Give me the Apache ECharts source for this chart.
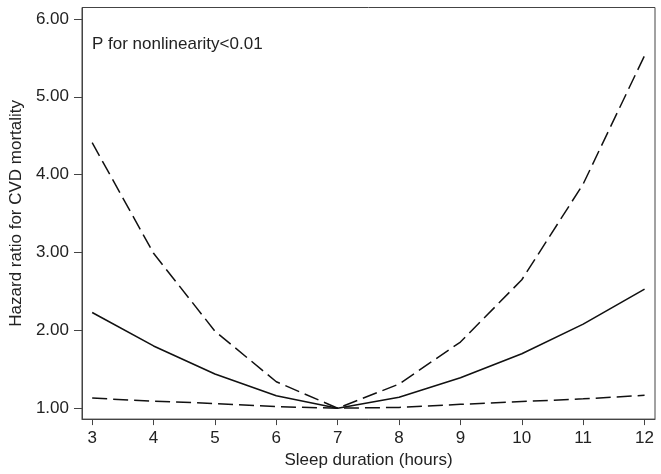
<!DOCTYPE html>
<html>
<head>
<meta charset="utf-8">
<script src="https://cdn.jsdelivr.net/npm/echarts@6/dist/echarts.min.js"></script>
<style>html,body{margin:0;padding:0;background:#fff;}#c{width:661px;height:474px;}</style>
</head>
<body>
<div id="c"></div>
<script>
const sleepHours = [3, 4, 5, 6, 7, 8, 9, 10, 11, 12];
const hazardRatio = [2.23, 1.80, 1.44, 1.16, 1.00, 1.14, 1.39, 1.70, 2.08, 2.53];
const upperCI = [4.41, 2.99, 1.99, 1.34, 1.00, 1.31, 1.85, 2.65, 3.88, 5.53];
const lowerCI = [1.13, 1.09, 1.06, 1.02, 1.00, 1.01, 1.05, 1.085, 1.12, 1.166];
const xTicks = [3, 4, 5, 6, 7, 8, 9, 10, 11, 12];
const yTicks = [1, 2, 3, 4, 5, 6];
const annotation = 'P for nonlinearity<0.01';
const xName = 'Sleep duration (hours)';
const yName = 'Hazard ratio for CVD mortality';

const FONT = 'Liberation Sans, Arial, sans-serif';
const pair = arr => sleepHours.map((x, i) => [x, arr[i]]);
const chart = echarts.init(document.getElementById('c'), null, {renderer: 'canvas'});
const dash = {color: '#111', width: 1.5, type: [15, 6]};
chart.setOption({
  animation: false,
  backgroundColor: '#fff',
  grid: {left: 77, right: 6, top: 7.5, bottom: 52, show: true, borderColor: '#444', borderWidth: 1, backgroundColor: 'transparent'},
  xAxis: {
    type: 'value', min: 2.834, max: 12.17,
    name: xName, nameLocation: 'middle', nameGap: 27,
    nameTextStyle: {fontFamily: FONT, fontSize: 17, color: '#222'},
    axisLine: {show: true, lineStyle: {color: '#444', width: 1}},
    axisTick: {show: true, length: 6, lineStyle: {color: '#444'}, customValues: xTicks},
    axisLabel: {fontFamily: FONT, fontSize: 17, color: '#222', margin: 11, customValues: xTicks},
    splitLine: {show: false}
  },
  yAxis: {
    type: 'value', min: 0.86, max: 6.147,
    name: yName, nameLocation: 'middle', nameGap: 55,
    nameTextStyle: {fontFamily: FONT, fontSize: 17, color: '#222'},
    axisLine: {show: true, lineStyle: {color: '#444', width: 1}},
    axisTick: {show: true, length: 8, lineStyle: {color: '#444'}, customValues: yTicks},
    axisLabel: {fontFamily: FONT, fontSize: 17, color: '#222', margin: 13, customValues: yTicks, formatter: v => v.toFixed(2)},
    splitLine: {show: false}
  },
  graphic: [{
    type: 'text', left: 92, top: 36,
    style: {text: annotation, fontFamily: FONT, fontSize: 17, fill: '#222'}
  }],
  series: [
    {type: 'line', data: pair(upperCI), symbol: 'none', lineStyle: dash},
    {type: 'line', data: pair(hazardRatio), symbol: 'none', lineStyle: {color: '#111', width: 1.6}},
    {type: 'line', data: pair(lowerCI), symbol: 'none', lineStyle: dash}
  ]
});
</script>
</body>
</html>
